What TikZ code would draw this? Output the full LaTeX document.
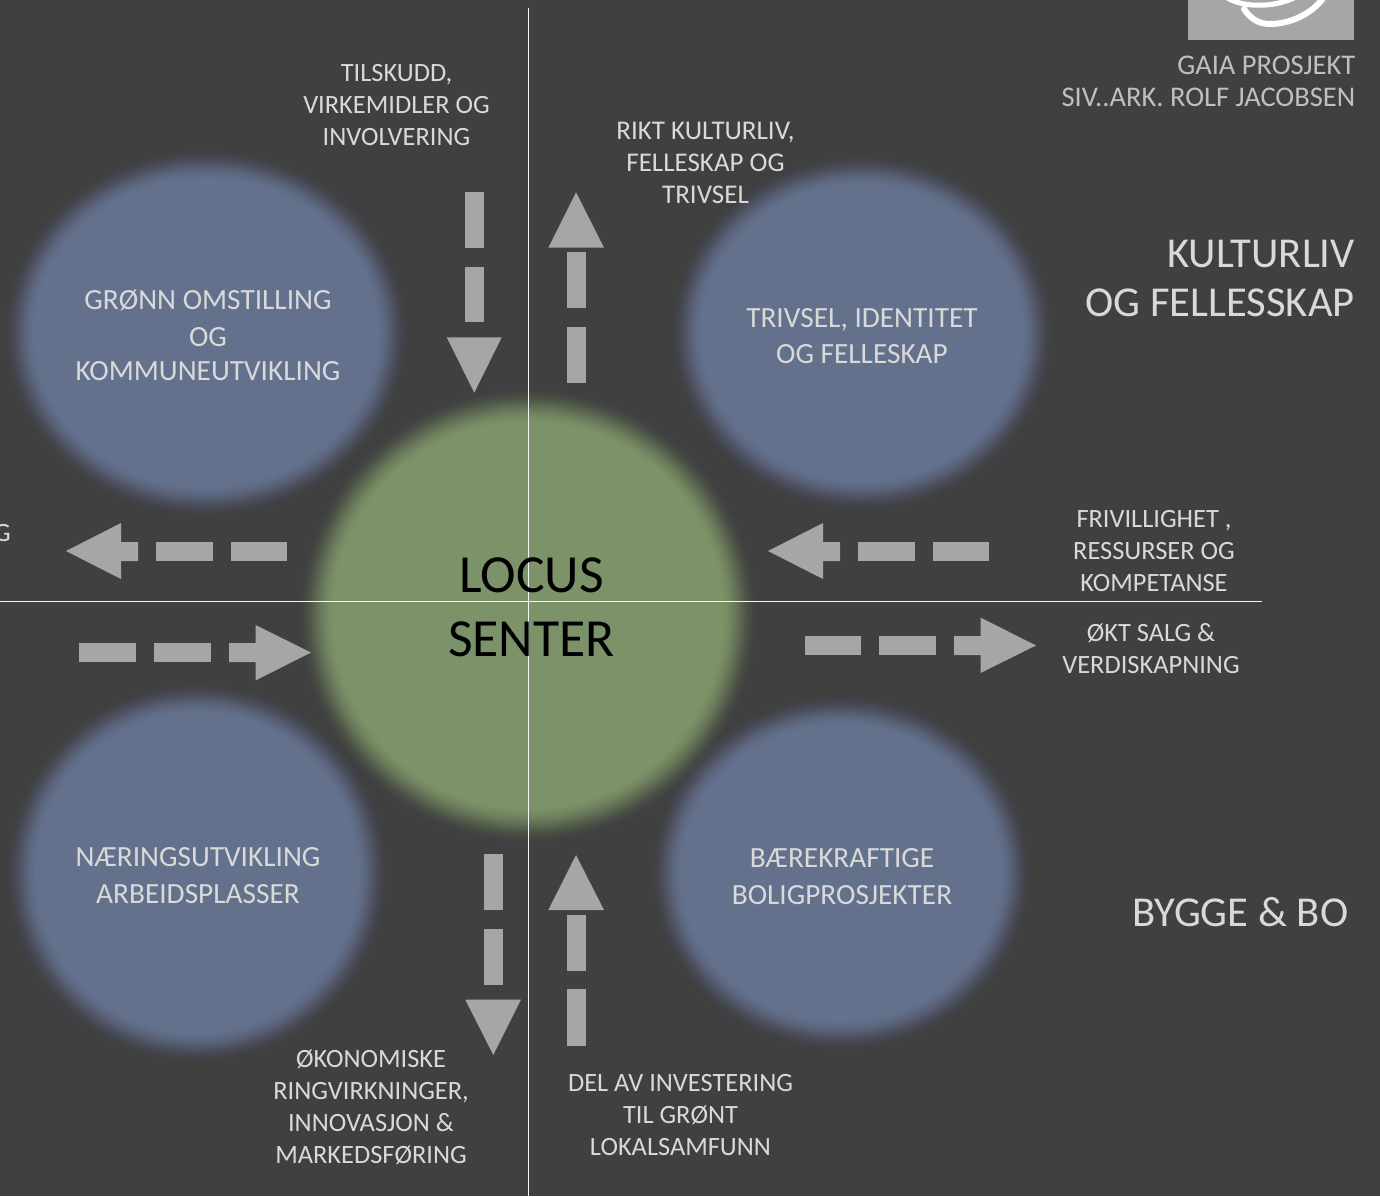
\documentclass[tikz,border=0pt]{standalone}
\usepackage{fontspec}
\setmainfont{Carlito}
\usetikzlibrary{shapes.geometric}
\definecolor{bgc}{HTML}{404040}
\definecolor{bluec}{HTML}{64718C}
\definecolor{greenc}{HTML}{7C9268}
\definecolor{arrowc}{HTML}{A6A6A6}
\definecolor{labelc}{HTML}{D9D9D9}
\definecolor{topc}{HTML}{BFBFBF}
\newcommand{\softdisc}[6]{% name, cx, cy, rx, ry, colour; blur half-width \blurw
  \foreach \i in {1,...,30}{
    \pgfmathsetmacro{\tt}{\i/30}
    \pgfmathsetmacro{\tq}{(\i-1)/30}
    \pgfmathsetmacro{\pp}{\tt*\tt*(3-2*\tt)}
    \pgfmathsetmacro{\pq}{\tq*\tq*(3-2*\tq)}
    \pgfmathsetmacro{\aa}{min(1,1-(1-\pp)/(1-\pq))}
    \pgfmathsetmacro{\dd}{\blurw*(1-2*\tt)}
    \fill[#6,fill opacity=\aa] (#2,#3) ellipse [x radius=#4+\dd, y radius=#5+\dd];
  }
  \node[inner sep=0pt,minimum size=0pt] (#1) at (#2,#3) {};
}
\tikzset{
  x=1pt,y=-1pt,
  blockpart/.style={fill=arrowc,draw=none},
  lab/.style={text=labelc,font=\fontsize{26.4}{32}\selectfont,align=center,inner sep=0pt},
  circlab/.style={text=labelc,font=\fontsize{29.3}{36.5}\selectfont,align=center,inner sep=0pt},
  biglab/.style={text=labelc,font=\fontsize{42.6}{49}\selectfont,align=right,inner sep=0pt},
  toplab/.style={text=topc,font=\fontsize{28.5}{32}\selectfont,align=right,inner sep=0pt},
  crosshair/.style={draw=white!95!bgc,line width=1.2pt}
}
\begin{document}
\begin{tikzpicture}
\fill[bgc] (0,0) rectangle (1380,1196);
\useasboundingbox (0,0) rectangle (1380,1196);
% logo
\fill[arrowc] (1188,0) rectangle (1354,40);
\draw[white,line width=5pt,line cap=round] (1226,-3) .. controls (1240,7) and (1272,9) .. (1296,-3);
\draw[white,line width=6pt,line cap=round] (1244,9) .. controls (1250,18) and (1258,24) .. (1270,24) .. controls (1290,24) and (1312,14) .. (1324,-3);
% soft discs
\def\blurw{17}
\softdisc{cTL}{206}{333}{189}{171}{bluec}
\softdisc{cTR}{862}{333}{178}{165}{bluec}
\softdisc{cBL}{197}{873}{178}{177}{bluec}
\softdisc{cBR}{841}{873}{177}{165}{bluec}
\def\blurw{19}
\softdisc{cC}{528}{615.5}{214}{212}{greenc}
% crosshair
\coordinate (vt) at (528.5,8);
\coordinate (vb) at (528.5,1196);
\coordinate (hl) at (0,601.5);
\coordinate (hr) at (1262,601.5);
\draw[crosshair] (vt) -- (vb);
\draw[crosshair] (hl) -- (hr);
% left-pointing arrows
\foreach \ox in {0,702}{
  \begin{scope}[shift={(\ox,0)}]
  \fill[blockpart] (66,551) -- (121,523) -- (121,542) -- (138,542) -- (138,561) -- (121,561) -- (121,579) -- cycle;
  \fill[blockpart] (156,542) rectangle (212.5,561);
  \fill[blockpart] (231,542) rectangle (287,561);
  \end{scope}
}
% right-pointing arrows
\fill[blockpart] (79,643) rectangle (135.5,662);
\fill[blockpart] (154,643) rectangle (210.5,662);
\fill[blockpart] (229,643) -- (255.5,643) -- (255.5,625) -- (311,652.5) -- (255.5,680.5) -- (255.5,662) -- (229,662) -- cycle;
\fill[blockpart] (804.5,636) rectangle (860.5,655);
\fill[blockpart] (879,636) rectangle (935.5,655);
\fill[blockpart] (954,636) -- (980.5,636) -- (980.5,617.5) -- (1036,645.5) -- (980.5,673) -- (980.5,655) -- (954,655) -- cycle;
% down arrows
\fill[blockpart] (465,192) rectangle (483.7,247.7);
\fill[blockpart] (465,266.7) rectangle (483.7,322.3);
\fill[blockpart] (446.7,337.3) -- (501.7,337.3) -- (474.3,392.7) -- cycle;
\fill[blockpart] (484,854.3) rectangle (502.7,910);
\fill[blockpart] (484,929) rectangle (502.7,985);
\fill[blockpart] (465.3,999.7) -- (521,999.7) -- (493.3,1055) -- cycle;
% up arrows
\fill[blockpart] (548.3,247.7) -- (604,247.7) -- (576,192.3) -- cycle;
\fill[blockpart] (566.7,252.3) rectangle (585.7,308.3);
\fill[blockpart] (566.7,327) rectangle (585.7,383);
\fill[blockpart] (548.3,910) -- (604,910) -- (576,855) -- cycle;
\fill[blockpart] (566.7,914.7) rectangle (585.7,970.7);
\fill[blockpart] (566.7,989.3) rectangle (585.7,1045.7);
% labels
\node[lab] (l1) at (396.5,105) {TILSKUDD,\\VIRKEMIDLER OG\\INVOLVERING};
\node[lab,font=\fontsize{27}{32}\selectfont] (l2) at (705.5,163) {RIKT KULTURLIV,\\FELLESKAP OG\\TRIVSEL};
\node[lab] (l3) at (1154,551) {FRIVILLIGHET ,\\RESSURSER OG\\KOMPETANSE};
\node[lab] (l4) at (1151,649) {ØKT SALG \&\\VERDISKAPNING};
\node[lab] (l5) at (371,1107) {ØKONOMISKE\\RINGVIRKNINGER,\\INNOVASJON \&\\MARKEDSFØRING};
\node[lab] (l6) at (680.5,1115) {DEL AV INVESTERING\\TIL GRØNT\\LOKALSAMFUNN};
\node[lab,anchor=east] (l7) at (11,533) {G};
\node[circlab] (t1a) at (208,300) {GRØNN OMSTILLING};
\node[circlab] (t1b) at (208,337) {OG};
\node[circlab] (t1c) at (208,371) {KOMMUNEUTVIKLING};
\node[circlab] (t2) at (862,336) {TRIVSEL, IDENTITET\\OG FELLESKAP};
\node[circlab] (t3) at (198,875.5) {NÆRINGSUTVIKLING\\ARBEIDSPLASSER};
\node[circlab] (t4) at (842,876.5) {BÆREKRAFTIGE\\BOLIGPROSJEKTER};
\node[biglab,anchor=east] (b1) at (1355,278) {KULTURLIV\\OG FELLESSKAP};
\node[biglab] (b2) at (1240.5,912) {BYGGE \& BO};
\node[toplab,anchor=east] (g1) at (1355.5,81) {GAIA PROSJEKT\\SIV..ARK. ROLF JACOBSEN};
\node[text=black,font=\fontsize{53.6}{64}\selectfont,align=center,inner sep=0pt] (lc) at (531.5,607) {LOCUS\\SENTER};
\end{tikzpicture}
\end{document}
